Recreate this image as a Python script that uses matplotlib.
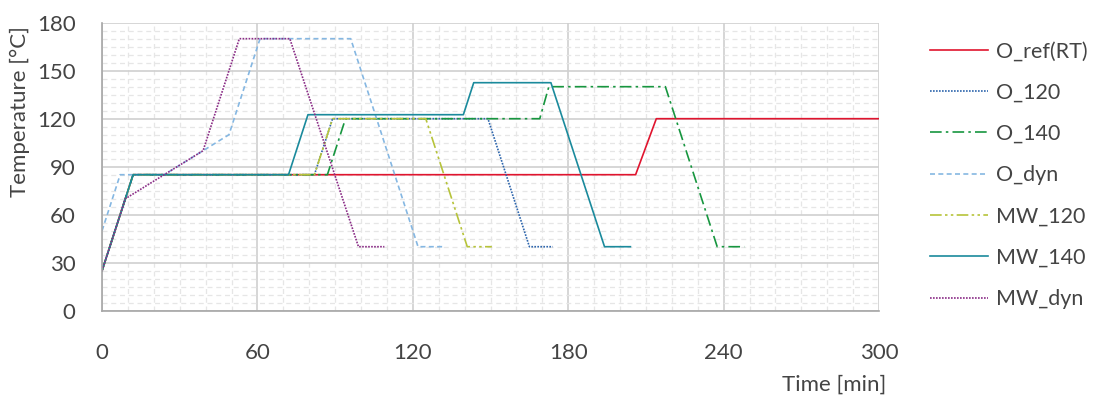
import numpy as np
import matplotlib.pyplot as plt
from matplotlib.ticker import MultipleLocator

# temperature programmes: time [min] and temperature [°C] breakpoints
t_ref = [0, 12, 206, 214, 300]
T_ref = [25, 85, 85, 120, 120]

t_o120 = [0, 12, 82, 89, 149, 165, 174]
T_o120 = [25, 85, 85, 120, 120, 40, 40]

t_o140 = [0, 12, 87, 94, 169, 172.5, 217.5, 237.5, 248]
T_o140 = [25, 85, 85, 120, 120, 140, 140, 40, 40]

t_odyn = [0, 7, 24, 39, 49, 61, 96, 122, 132]
T_odyn = [50, 85, 85, 100, 110, 170, 170, 40, 40]

t_mw120 = [0, 12, 82, 89, 125, 141, 150.5]
T_mw120 = [25, 85, 85, 120, 120, 40, 40]

t_mw140 = [0, 12, 72, 79.5, 139.5, 143.5, 173.3, 194, 204]
T_mw140 = [25, 85, 85, 122.5, 122.5, 142.5, 142.5, 40, 40]

t_mwdyn = [0, 9, 39, 53, 72.5, 99, 109]
T_mwdyn = [25, 70, 100, 170, 170, 40, 40]

names = ['O_ref(RT)', 'O_120', 'O_140', 'O_dyn', 'MW_120', 'MW_140', 'MW_dyn']

plt.rcParams['font.family'] = ['Lato', 'DejaVu Sans']
txt = '#444444'
fs = 16

fig = plt.figure(figsize=(11.02, 3.98), dpi=100)
ax = fig.add_axes([0.0926, 0.2193, 0.7051, 0.7237])

series = [
    (t_ref, T_ref, '#e0142e', '-'),
    (t_o120, T_o120, '#2e66ad', (0, (1, 0.8))),
    (t_o140, T_o140, '#17963f', (0, (7, 2.5, 1.5, 2.5))),
    (t_odyn, T_odyn, '#85b7e2', (0, (3, 2))),
    (t_mw120, T_mw120, '#b6c33a', (0, (7, 2, 1.5, 2, 1.5, 2))),
    (t_mw140, T_mw140, '#1a8a9c', '-'),
    (t_mwdyn, T_mwdyn, '#8a2c86', (0, (1, 0.8))),
]
for (t, T, c, ls), name in zip(series, names):
    ax.plot(t, T, color=c, ls=ls, lw=1.2, label=name)

ax.set_xlim(0, 300)
ax.set_ylim(0, 180)
ax.xaxis.set_major_locator(MultipleLocator(60))
ax.xaxis.set_minor_locator(MultipleLocator(10))
ax.yaxis.set_major_locator(MultipleLocator(30))
ax.yaxis.set_minor_locator(MultipleLocator(5))
ax.grid(which='major', color='#d0d0d0', lw=1.2, ls='-')
ax.grid(which='minor', color='#e6e6e6', lw=0.9, ls=(0, (4, 3)))
ax.set_axisbelow(True)

for s in ['top', 'right']:
    ax.spines[s].set_visible(False)
for s in ['left', 'bottom']:
    ax.spines[s].set_color('#a6a6a6')
    ax.spines[s].set_linewidth(1.2)

ax.tick_params(which='both', length=0, labelsize=fs, colors=txt)
ax.tick_params(axis='x', pad=23)
ax.tick_params(axis='y', pad=19)

fig.text(20 / 1102, 1 - 112 / 398, 'Temperature [°C]', rotation=90, ha='center',
         va='center', fontsize=fs, color=txt)
fig.text(886 / 1102, 1 - 385 / 398, 'Time [min]', ha='right', va='center',
         fontsize=fs, color=txt)

leg = fig.legend(loc='upper left', bbox_to_anchor=(0.826, 0.945), frameon=False,
                 handlelength=2.7, handletextpad=0.36, labelspacing=0.99,
                 prop={'size': 15.5})
for t in leg.get_texts():
    t.set_color(txt)

fig.savefig('out.png', dpi=100)
